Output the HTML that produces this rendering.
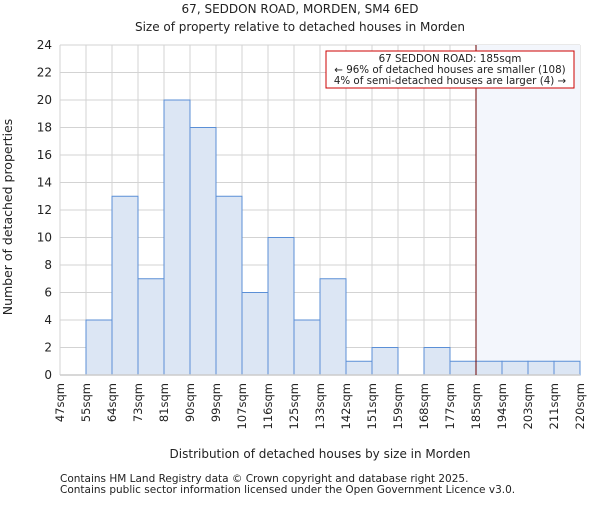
<!DOCTYPE html>
<html><head><meta charset="utf-8"><style>
body{margin:0;background:#fff}
svg text{font-family:"DejaVu Sans","Liberation Sans",sans-serif;fill:#222}
</style></head><body>
<svg width="600" height="500" xmlns="http://www.w3.org/2000/svg">
<text x="300" y="13" text-anchor="middle" font-size="12">67, SEDDON ROAD, MORDEN, SM4 6ED</text>
<text x="300" y="31" text-anchor="middle" font-size="12">Size of property relative to detached houses in Morden</text>
<g id="grid"></g>
<rect x="476" y="45" width="104" height="330" fill="#f3f6fc"/>
<g id="bars"></g>
<g id="axes"></g>
<line x1="476" y1="45" x2="476" y2="375" stroke="#6b0000" stroke-width="1"/>
<rect x="326" y="51" width="248" height="37" fill="#fff" stroke="#cc0000" stroke-width="1"/>
<text x="450" y="62" text-anchor="middle" font-size="10.3">67 SEDDON ROAD: 185sqm</text>
<text x="450" y="73" text-anchor="middle" font-size="10.3">← 96% of detached houses are smaller (108)</text>
<text x="450" y="84" text-anchor="middle" font-size="10.3">4% of semi-detached houses are larger (4) →</text>
<text transform="translate(12,217) rotate(-90)" text-anchor="middle" font-size="12.5">Number of detached properties</text>
<text x="320" y="458" text-anchor="middle" font-size="12">Distribution of detached houses by size in Morden</text>
<text x="60" y="482" font-size="10.5">Contains HM Land Registry data © Crown copyright and database right 2025.</text>
<text x="60" y="493" font-size="10.5">Contains public sector information licensed under the Open Government Licence v3.0.</text>
</svg>
<script>
const categories=["47sqm","55sqm","64sqm","73sqm","81sqm","90sqm","99sqm","107sqm","116sqm","125sqm","133sqm","142sqm","151sqm","159sqm","168sqm","177sqm","185sqm","194sqm","203sqm","211sqm","220sqm"];
const counts=[0,4,13,7,20,18,13,6,10,4,7,1,2,0,2,1,1,1,1,1];
const yTicks=[0,2,4,6,8,10,12,14,16,18,20,22,24];
const X0=60,X1=580,Y0=375,Y1=45,YMAX=24;
const bw=(X1-X0)/counts.length;
const xs=i=>X0+i*bw;
const ys=v=>Y0-(v/YMAX)*(Y0-Y1);
const NS="http://www.w3.org/2000/svg";
const grid=document.getElementById('grid'),bars=document.getElementById('bars'),axes=document.getElementById('axes');
function mk(tag,attrs,parent){const e=document.createElementNS(NS,tag);for(const k in attrs)e.setAttribute(k,attrs[k]);parent.appendChild(e);return e;}
yTicks.forEach(t=>{
 const l=mk('line',{x1:X0,x2:X1,y1:ys(t),y2:ys(t),stroke:'#d3d3d3','stroke-width':1},grid);
 
 
 const tx=mk('text',{x:X0-8,y:ys(t)+4,'text-anchor':'end','font-size':12},axes);
 
 
 tx.textContent=t;
});
categories.forEach((c,i)=>{
 const x=xs(i);
 const l=mk('line',{x1:x,x2:x,y1:Y1,y2:Y0,stroke:'#d3d3d3','stroke-width':1},grid);
 
 
 const tx=mk('text',{transform:`translate(${x+4},${Y0+8}) rotate(-90)`,'text-anchor':'end','font-size':11.5},axes);
 
 
 tx.textContent=c;
});
counts.forEach((v,i)=>{
 if(v<=0)return;
 const r=mk('rect',{x:xs(i),y:ys(v),width:bw,height:Y0-ys(v),fill:'#dce6f4',stroke:'#5b8fd6','stroke-width':1},bars);
 
 
});
const ax=mk('line',{x1:X0,x2:X1,y1:Y0,y2:Y0,stroke:'#ccc','stroke-width':1.5},axes);


</script>
</body></html>
